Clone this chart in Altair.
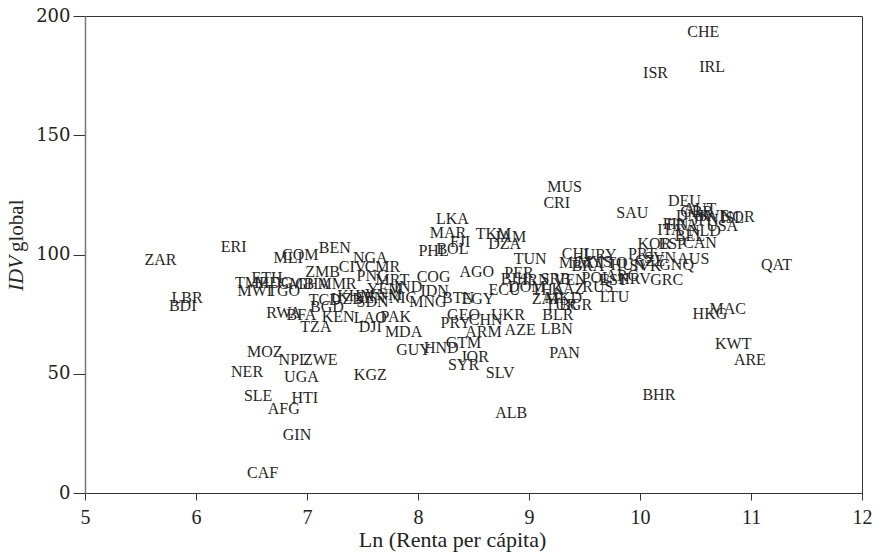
import altair as alt
import pandas as pd

# Country codes with log income per capita and global IDV score
codes = [
    "CHE", "IRL", "ISR", "MUS", "CRI", "SAU", "DEU", "LKA", "MAR", "FJI",
    "BOL", "PHL", "TKM", "JAM", "DZA", "TUN", "AGO", "PER", "COG",
    "ZAR", "ERI", "LBR", "BDI", "MLI", "COM", "BEN", "NGA", "CIV", "CMR",
    "ZMB", "PNG", "MRT", "ETH", "TMP", "MDG", "GMB", "GHA", "MMR", "MWI",
    "TGO", "TCD", "BGD", "RWA", "BFA", "KEN", "LAO", "PAK", "TZA", "DJI",
    "MDA", "SDN", "YEM", "IND", "IDN", "KHM", "SEN", "VNM", "NIC", "MNG",
    "BTN", "EGY", "UZB",
    "MOZ", "NER", "NPL", "ZWE", "UGA", "KGZ", "SLE", "HTI", "AFG", "GIN", "CAF",
    "GUY", "HND", "GTM", "JOR", "SYR", "SLV", "ALB", "PAN", "LBN", "AZE",
    "ARM", "CHN", "PRY", "GEO", "UKR", "BLR",
    "BHR", "KWT", "ARE", "HKG", "MAC", "QAT", "LTU",
    "BIH", "IRN", "SRB", "VEN", "ECU", "DOM", "THA", "KAZ", "RUS",
    "ZAF", "MKD", "TUR", "BGR",
    "CHL", "URY", "MEX", "MYS", "BRA", "TTO", "HUN", "SVK", "SVN", "GNQ",
    "AUS", "CZE", "POL", "EST", "HRV", "ARG", "GRC",
    "PRT", "KOR", "ESP", "CAN", "BEL", "ITA", "NLD", "FRA", "FIN", "USA",
    "DNK", "SWE", "NOR", "ISL", "AUT", "GBR", "JPN",
]

ln_renta = [
    10.57, 10.65, 10.14, 9.32, 9.25, 9.93, 10.40, 8.31, 8.27, 8.38,
    8.31, 8.14, 8.68, 8.83, 8.78, 9.01, 8.53, 8.91, 8.14,
    5.68, 6.34, 5.92, 5.88, 6.83, 6.94, 7.25, 7.57, 7.41, 7.68,
    7.14, 7.59, 7.77, 6.64, 6.50, 6.70, 6.90, 7.05, 7.27, 6.53,
    6.79, 7.16, 7.18, 6.79, 6.95, 7.28, 7.57, 7.80, 7.08, 7.57,
    7.87, 7.59, 7.70, 7.91, 8.15, 7.44, 7.57, 7.69, 7.86, 8.09,
    8.36, 8.54, 7.36,
    6.62, 6.46, 6.88, 7.12, 6.95, 7.57, 6.56, 6.98, 6.79, 6.91, 6.60,
    7.96, 8.21, 8.41, 8.51, 8.41, 8.74, 8.84, 9.32, 9.25, 8.92,
    8.59, 8.61, 8.34, 8.41, 8.81, 9.26,
    10.17, 10.84, 10.99, 10.63, 10.79, 11.23, 9.77,
    8.87, 9.06, 9.24, 9.37, 8.78, 8.98, 9.17, 9.35, 9.62,
    9.16, 9.31, 9.29, 9.42,
    9.44, 9.64, 9.43, 9.59, 9.53, 9.75, 9.89, 10.05, 10.18, 10.33,
    10.48, 10.09, 9.61, 9.76, 9.95, 9.84, 10.24,
    10.02, 10.13, 10.29, 10.54, 10.45, 10.27, 10.58, 10.38, 10.32, 10.74,
    10.48, 10.65, 10.88, 10.83, 10.54, 10.51, 10.59,
]

idv = [
    193.3, 178.6, 176.1, 128.3, 121.6, 117.4, 122.4, 114.9, 109.0, 105.2,
    102.3, 101.5, 108.6, 107.3, 104.4, 98.1, 92.7, 92.2, 90.6,
    97.7, 103.1, 81.8, 78.4, 98.5, 99.8, 102.7, 98.5, 94.8, 94.8,
    92.7, 91.0, 89.3, 90.1, 88.1, 88.1, 87.6, 87.6, 87.6, 84.7,
    84.7, 80.9, 78.0, 75.5, 74.6, 73.8, 73.4, 73.8, 69.6, 69.6,
    67.5, 80.1, 85.5, 86.4, 84.7, 82.6, 81.8, 83.0, 81.8, 80.1,
    81.8, 81.3, 81.3,
    59.1, 50.7, 55.8, 55.8, 48.6, 49.5, 40.7, 39.8, 35.2, 24.3, 8.4,
    60.0, 60.8, 62.9, 57.0, 53.7, 50.3, 33.5, 58.7, 68.8, 68.3,
    67.5, 72.5, 71.3, 74.6, 74.6, 74.6,
    41.1, 62.5, 55.8, 75.1, 77.1, 95.6, 82.2,
    89.7, 89.3, 89.7, 89.3, 85.3, 86.2, 85.3, 85.7, 86.2,
    81.3, 81.8, 78.9, 78.9,
    100.2, 99.8, 96.4, 96.9, 95.2, 96.4, 95.6, 95.2, 98.5, 95.6,
    98.1, 97.3, 90.1, 89.3, 89.7, 91.0, 89.3,
    100.2, 104.4, 104.4, 104.8, 107.8, 110.3, 109.9, 112.4, 112.8, 112.0,
    116.1, 116.1, 115.7, 115.3, 119.1, 117.8, 114.5,
]

df = pd.DataFrame({"code": codes, "ln_renta": ln_renta, "idv": idv})

SERIF = "Liberation Serif"
INK = "#262626"

x_enc = alt.X(
    "ln_renta:Q",
    scale=alt.Scale(domain=[5, 12], nice=False, zero=False),
    axis=alt.Axis(
        values=[5, 6, 7, 8, 9, 10, 11, 12],
        title="Ln (Renta per cápita)",
        titleX=367,
        titleY=46,
        titleAlign="center",
        titleBaseline="middle",
        tickSize=7,
        labelPadding=7,
        labelFont=SERIF,
        labelFontSize=20,
        domainColor="#333333",
    ),
)
y_enc = alt.Y(
    "idv:Q",
    scale=alt.Scale(domain=[0, 200], nice=False, zero=True),
    axis=alt.Axis(
        values=[0, 50, 100, 150, 200],
        title=None,
        tickSize=12,
        labelPadding=3,
        labelFont="DejaVu Serif",
        labelFontSize=18,
        domainColor="#777777",
        domainWidth=1.5,
    ),
)

labels = alt.Chart(df).mark_text(
    font=SERIF, fontSize=16, color=INK, align="center", baseline="middle"
).encode(x=x_enc, y=y_enc, text="code:N")

# Rotated y-axis title with an italic "IDV"
ytitle_a = alt.Chart(pd.DataFrame({"t": ["IDV"]})).mark_text(
    font=SERIF, fontSize=21, fontStyle="italic", color=INK, angle=270,
    align="right", baseline="middle",
).encode(x=alt.value(-68), y=alt.value(240), text="t:N")
ytitle_b = alt.Chart(pd.DataFrame({"t": ["global"]})).mark_text(
    font=SERIF, fontSize=21, color=INK, angle=270,
    align="left", baseline="middle",
).encode(x=alt.value(-68), y=alt.value(236), text="t:N")

chart = (
    alt.layer(labels, ytitle_a, ytitle_b)
    .properties(
        width=777,
        height=477,
        autosize=alt.AutoSizeParams(type="none"),
        padding={"left": 85, "top": 16, "right": 21, "bottom": 64},
        background="white",
    )
    .configure_view(stroke="#333333", strokeWidth=1)
    .configure_axis(
        grid=False,
        labelColor="#222222",
        labelFlush=False,
        labelOverlap=False,
        tickColor="#333333",
        titleFont=SERIF,
        titleFontSize=22,
        titleFontWeight="normal",
        titleColor="#222222",
    )
)

chart.save("out.html", embed_options={"renderer": "svg", "actions": False})
